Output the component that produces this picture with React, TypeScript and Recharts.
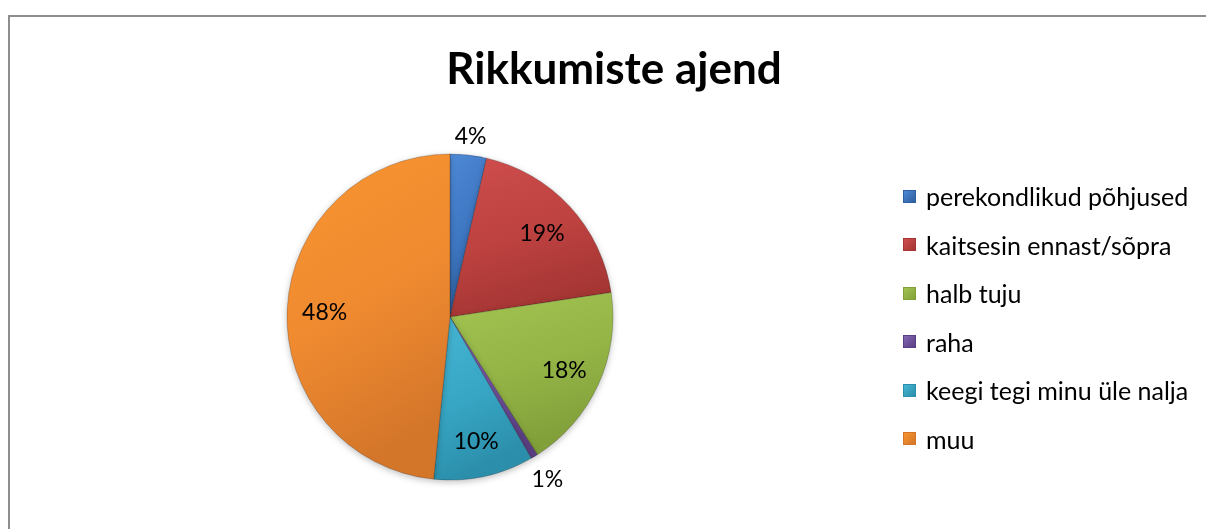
import React from 'react';
import { PieChart, Pie, Cell } from 'recharts';

const categories = [
  'perekondlikud põhjused',
  'kaitsesin ennast/sõpra',
  'halb tuju',
  'raha',
  'keegi tegi minu üle nalja',
  'muu',
];
const values = [3.6, 19.0, 18.4, 0.7, 9.9, 48.4];
const colors = ['#3E77C2', '#BE4240', '#94B446', '#7252A0', '#37A6C4', '#EF8A30'];
const lightColors = ['#4E89D6', '#CE4E4C', '#A3C452', '#8466B4', '#46B6D4', '#F8952F'];
const darkColors = ['#2F5F9E', '#A53634', '#82A03A', '#5A3F82', '#2B8EAA', '#D4762A'];
const title = 'Rikkumiste ajend';

const data = categories.map((name, i) => ({ name, value: values[i] }));

const FONT = 'Lato, "Open Sans", sans-serif';
const RAD = Math.PI / 180;

const renderLabel = (props: any) => {
  const { cx, cy, midAngle, outerRadius, percent } = props;
  const inside = percent >= 0.05;
  const c = Math.cos(-midAngle * RAD);
  const s = Math.sin(-midAngle * RAD);
  const r = inside
    ? outerRadius * 0.77
    : outerRadius + 7 + Math.abs(c) * 17 + Math.abs(s) * 11;
  const x = cx + r * c;
  const y = cy + r * s;
  return (
    <text
      x={x}
      y={y}
      textAnchor="middle"
      dominantBaseline="central"
      fontFamily={FONT}
      fontSize={23}
      fill="#000"
    >
      {`${Math.round(percent * 100)}%`}
    </text>
  );
};

export default function App() {
  return (
    <div style={{ position: 'relative', width: 1190, height: 513 }}>
      <style>{`html,body{overflow:hidden;scrollbar-width:none;}::-webkit-scrollbar{display:none;width:0;height:0;}`}</style>
      <svg width={0} height={0} style={{ position: 'absolute' }}>
        <defs>
          {colors.map((c, i) => (
            <linearGradient key={i} id={`grad${i}`} x1="0" y1="0" x2="0.3" y2="1">
              <stop offset="0%" stopColor={lightColors[i]} />
              <stop offset="55%" stopColor={c} />
              <stop offset="100%" stopColor={darkColors[i]} />
            </linearGradient>
          ))}
        </defs>
      </svg>
      <svg
        width={1206}
        height={529}
        style={{ position: 'fixed', left: 0, top: 0, pointerEvents: 'none' }}
      >
        <path d="M9 529 L9 16 L1206 16" fill="none" stroke="#8e8e8e" strokeWidth={2} />
      </svg>
      <div
        style={{
          position: 'absolute',
          left: 0,
          top: 33,
          width: 1212,
          textAlign: 'center',
          fontFamily: FONT,
          fontWeight: 'bold',
          fontSize: 44,
          color: '#000',
        }}
      >
        {title}
      </div>
      <div style={{ position: 'absolute', left: 0, top: 0 }}>
        <PieChart width={1190} height={513} margin={{ top: 0, right: 0, bottom: 0, left: 0 }}>
          <Pie
            data={data}
            dataKey="value"
            nameKey="name"
            cx={442}
            cy={309}
            outerRadius={163}
            startAngle={90}
            endAngle={-270}
            isAnimationActive={false}
            label={renderLabel}
            labelLine={false}
            stroke="rgba(0,0,0,0.2)"
            strokeWidth={1}
            style={{ filter: 'drop-shadow(0px 2px 3px rgba(0,0,0,0.25))' }}
          >
            {data.map((_, i) => (
              <Cell key={i} fill={`url(#grad${i})`} />
            ))}
          </Pie>
        </PieChart>
      </div>
      <div
        style={{
          position: 'absolute',
          left: 895,
          top: 164,
          fontFamily: FONT,
          fontSize: 25,
          color: '#000',
        }}
      >
        {categories.map((name, i) => (
          <div key={i} style={{ display: 'flex', alignItems: 'center', height: 48.5 }}>
            <span
              style={{
                display: 'inline-block',
                width: 13,
                height: 13,
                background: `linear-gradient(135deg, ${lightColors[i]}, ${darkColors[i]})`,
                border: `1px solid ${darkColors[i]}`,
                boxSizing: 'border-box',
                marginRight: 10,
                flexShrink: 0,
              }}
            />
            <span style={{ whiteSpace: 'nowrap' }}>{name}</span>
          </div>
        ))}
      </div>
    </div>
  );
}
